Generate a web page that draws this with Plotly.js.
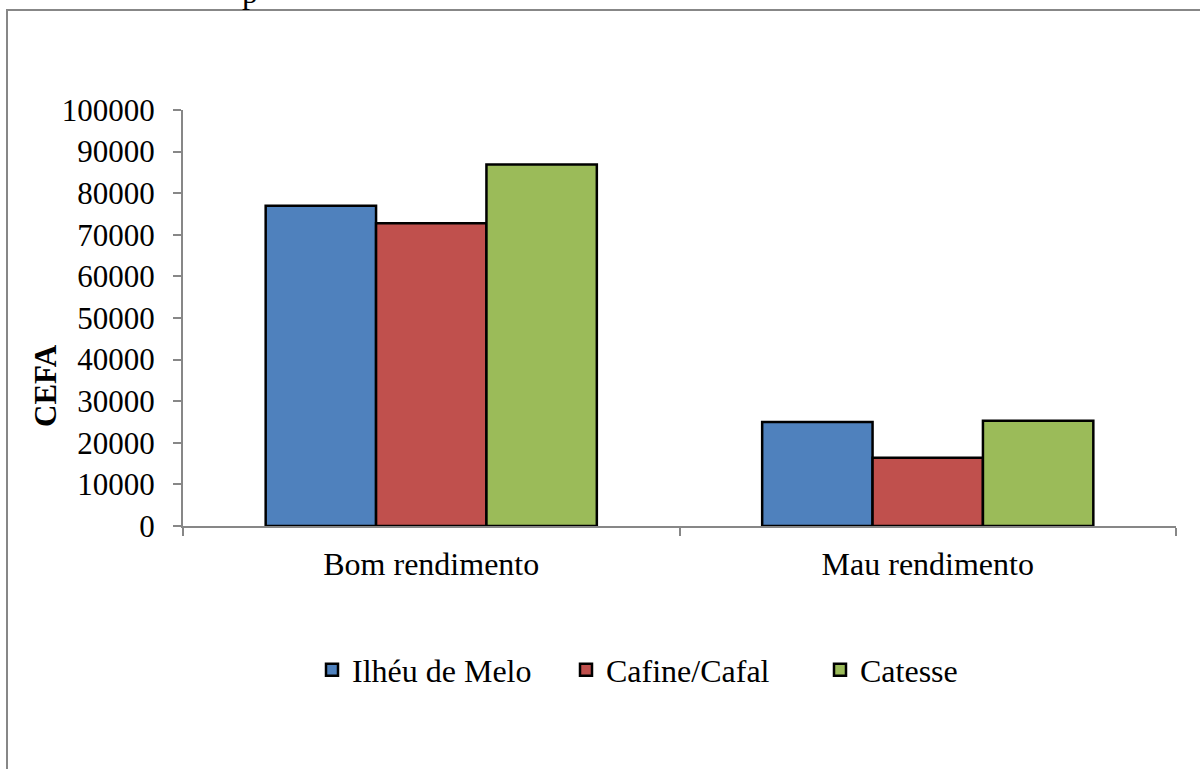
<!DOCTYPE html>
<html>
<head>
<meta charset="utf-8">
<script src="https://cdn.plot.ly/plotly-3.0.1.min.js"></script>
<style>
html,body{margin:0;padding:0;background:#fff;overflow:hidden;}
#chart{width:1200px;height:769px;}
</style>
</head>
<body>
<div id="chart"></div>
<script>
const categories = ["Bom rendimento", "Mau rendimento"];
const seriesNames = ["Ilhéu de Melo", "Cafine/Cafal", "Catesse"];
const ilheuDeMelo = [77000, 25000];
const cafineCafal = [72800, 16400];
const catesse = [86900, 25300];
const yTickVals = [0, 10000, 20000, 30000, 40000, 50000, 60000, 70000, 80000, 90000, 100000];
const yTitle = "CEFA";

const colors = ["#4F81BD", "#C0504D", "#9BBB59"];
const values = [ilheuDeMelo, cafineCafal, catesse];

const traces = values.map((v, i) => ({
  type: "bar",
  name: seriesNames[i],
  x: categories,
  y: v,
  marker: {color: colors[i], line: {color: "#000000", width: 2.5}},
  hoverinfo: "none"
}));

// plot area: x 183..1176, y 110..526
const L = 183, R = 1176, T = 110, B = 526;
const W = R - L, H = B - T;
const px = x => (x - L) / W;
const py = y => (B - y) / H;

const fam = "Liberation Serif";
const font = {family: fam, size: 32, color: "#000"};
const yFont = {family: fam, size: 31, color: "#000"};

const layout = {
  width: 1200, height: 769,
  margin: {l: L, r: 1200 - R, t: T, b: 769 - B, pad: 0},
  paper_bgcolor: "#fff", plot_bgcolor: "#fff",
  font: font,
  barmode: "group",
  bargap: 0.333,
  bargroupgap: 0,
  showlegend: true,
  legend: {
    orientation: "h",
    x: px(312), xanchor: "left",
    y: py(670), yanchor: "middle",
    font: font,
    entrywidth: 209,
    entrywidthmode: "pixels",
    traceorder: "normal",
    bgcolor: "rgba(0,0,0,0)"
  },
  xaxis: {
    type: "category",
    range: [-0.5, 1.5],
    showline: true, linecolor: "#878787", linewidth: 2,
    ticks: "outside", tickson: "boundaries", ticklen: 8, tickcolor: "#878787", tickwidth: 2,
    showgrid: false, zeroline: false,
    tickfont: font,
    ticklabelstandoff: 9,
    fixedrange: true
  },
  yaxis: {
    range: [0, 100000],
    tickvals: yTickVals,
    ticktext: yTickVals.map(String),
    showline: true, linecolor: "#878787", linewidth: 2,
    ticks: "outside", ticklen: 8, tickcolor: "#878787", tickwidth: 2,
    showgrid: false, zeroline: false,
    tickfont: yFont,
    ticklabelstandoff: 12,
    fixedrange: true
  },
  annotations: [
    {
      text: "<b>" + yTitle + "</b>",
      xref: "paper", yref: "paper",
      x: px(45), y: py(386),
      xanchor: "center", yanchor: "middle",
      textangle: -90, showarrow: false,
      font: yFont
    },
    {
      text: "p",
      xref: "paper", yref: "paper",
      x: px(250), y: py(-8),
      xanchor: "center", yanchor: "middle",
      showarrow: false,
      font: font
    }
  ],
  shapes: [
    {
      type: "rect", xref: "paper", yref: "paper",
      x0: px(7), x1: px(1215), y0: py(10), y1: py(790),
      line: {color: "#878787", width: 2},
      fillcolor: "rgba(0,0,0,0)",
      layer: "below"
    }
  ]
};

Plotly.newPlot("chart", traces, layout, {displayModeBar: false, staticPlot: true});
</script>
</body>
</html>
